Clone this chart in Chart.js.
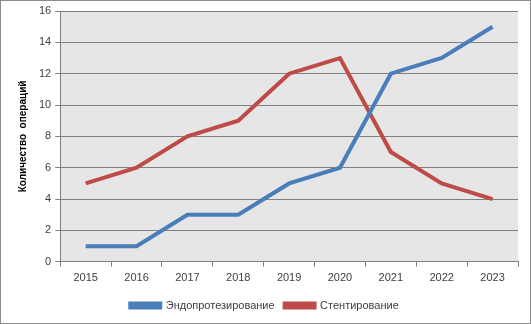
<!DOCTYPE html>
<html>
<head>
<meta charset="utf-8">
<script src="https://cdn.jsdelivr.net/npm/chart.js@4/dist/chart.umd.min.js"></script>
<style>
  html, body { margin: 0; padding: 0; background: #fff; }
  #wrap { width: 531px; height: 324px; position: relative; }
</style>
</head>
<body>
<div id="wrap"><canvas id="chart" width="531" height="324"></canvas></div>
<script>
// Данные
const years = ['2015', '2016', '2017', '2018', '2019', '2020', '2021', '2022', '2023'];
const endoprosthesis = [1, 1, 3, 3, 5, 6, 12, 13, 15];
const stenting = [5, 6, 8, 9, 12, 13, 7, 5, 4];

const blue = '#4a7ebb';
const red = '#be4b48';

// фон области построения и рамка
const chartBg = {
  id: 'chartBg',
  beforeDraw(chart) {
    const { ctx, chartArea: a } = chart;
    ctx.save();
    ctx.fillStyle = '#e6e6e6';
    ctx.fillRect(a.left, a.top, a.right - a.left, a.bottom - a.top);
    ctx.strokeStyle = '#8c8c8c';
    ctx.lineWidth = 1;
    ctx.strokeRect(0.5, 0.5, chart.width - 1, chart.height - 1);
    ctx.restore();
  }
};

new Chart(document.getElementById('chart'), {
  type: 'line',
  data: {
    labels: years,
    datasets: [
      { label: 'Эндопротезирование', data: endoprosthesis, borderColor: blue, backgroundColor: blue,
        borderWidth: 4, pointRadius: 0, tension: 0 },
      { label: 'Стентирование', data: stenting, borderColor: red, backgroundColor: red,
        borderWidth: 4, pointRadius: 0, tension: 0 }
    ]
  },
  options: {
    responsive: false,
    animation: false,
    layout: { padding: { top: 11, right: 13, left: 11, bottom: 3 } },
    plugins: {
      tooltip: { enabled: false },
      legend: {
        position: 'bottom',
        labels: {
          boxWidth: 30, boxHeight: 4, padding: 10,
          color: '#404040',
          font: { family: 'Liberation Sans', size: 11 }
        }
      }
    },
    scales: {
      x: {
        offset: true,
        grid: { display: true, offset: true, drawOnChartArea: false, drawTicks: true, tickLength: 5, color: '#808080' },
        border: { color: '#808080' },
        ticks: { color: '#404040', font: { family: 'Liberation Sans', size: 11 }, padding: 5 }
      },
      y: {
        min: 0, max: 16,
        ticks: { stepSize: 2, color: '#404040', font: { family: 'Liberation Sans', size: 11 }, padding: 4 },
        grid: { color: '#808080', tickLength: 5 },
        border: { color: '#808080' },
        title: {
          display: true, text: 'Количество  операций', color: '#000',
          font: { family: 'Liberation Sans', size: 10, weight: 'bold' }, padding: 6
        }
      }
    }
  },
  plugins: [chartBg]
});
</script>
</body>
</html>
